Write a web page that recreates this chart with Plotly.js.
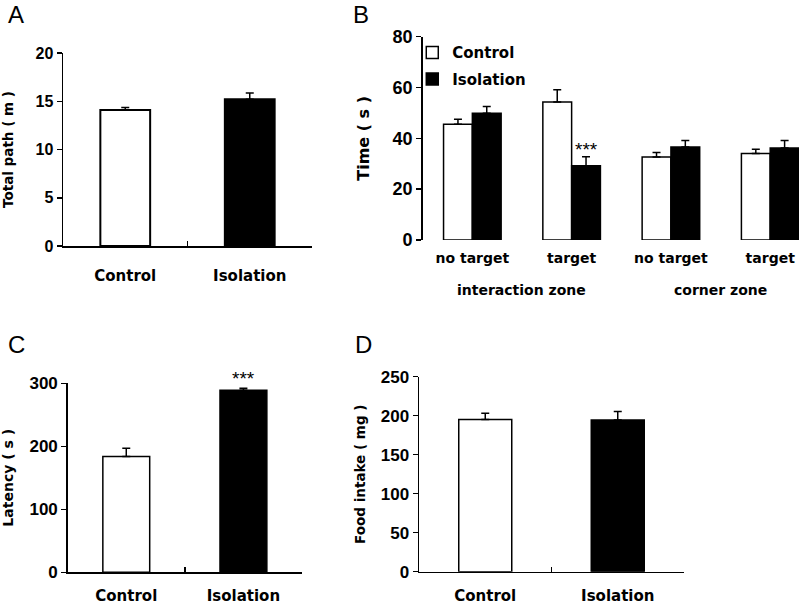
<!DOCTYPE html>
<html>
<head>
<meta charset="utf-8">
<script src="https://cdn.plot.ly/plotly-3.0.1.min.js"></script>
<style>html,body{margin:0;padding:0;background:#fff;}#chart{width:799px;height:605px;}</style>
</head>
<body>
<div id="chart"></div>
<script>
// ---- data ----
const groups = ['Control', 'Isolation'];
const totalPathMeans = [14.1, 15.2];
const totalPathErr = [0.25, 0.65];

const zoneCategories = ['no target', 'target', 'no target', 'target'];
const zoneGroups = ['interaction zone', 'corner zone'];
const timeControl = [45.5, 54.3, 32.7, 34.0];
const timeControlErr = [2.0, 4.8, 1.7, 1.7];
const timeIsolation = [49.9, 29.2, 36.6, 36.2];
const timeIsolationErr = [2.6, 3.6, 2.6, 3.0];

const latencyMeans = [184, 289];
const latencyErr = [13, 3];

const foodMeans = [195, 194.5];
const foodErr = [8, 11];

const barColors = ['#ffffff', '#000000'];
const panelLetters = ['A', 'B', 'C', 'D'];

// ---- styles ----
const TXT = 'DejaVu Sans, Verdana, sans-serif';
const NUM = 'Liberation Sans, Arial, sans-serif';
const zeros = n => new Array(n).fill(0);
function errY(arr, color) {
  return {type: 'data', symmetric: false, array: arr, arrayminus: zeros(arr.length),
          color: color || '#000', thickness: 1.5, width: 4, visible: true};
}
function simpleBar(means, errs, xa, ya, lw) {
  return {type: 'bar', x: groups, y: means, width: 0.4, xaxis: xa, yaxis: ya,
          marker: {color: barColors, line: {color: '#000', width: lw}},
          error_y: errY(errs), showlegend: false, hoverinfo: 'x+y'};
}
const zoneIdx = zoneCategories.map((_, i) => i);

const traces = [
  simpleBar(totalPathMeans, totalPathErr, 'x', 'y', 2),
  {type: 'bar', name: 'Control', x: zoneIdx, y: timeControl, xaxis: 'x2', yaxis: 'y2',
   marker: {color: barColors[0], line: {color: '#000', width: 1.5}},
   error_y: errY(timeControlErr), legendgroup: 'c'},
  {type: 'bar', name: 'Isolation', x: zoneIdx, y: timeIsolation, xaxis: 'x2', yaxis: 'y2',
   marker: {color: barColors[1], line: {color: '#000', width: 1.5}},
   error_y: errY(timeIsolationErr), legendgroup: 'i'},
  simpleBar(latencyMeans, latencyErr, 'x3', 'y3', 1.5),
  simpleBar(foodMeans, foodErr, 'x4', 'y4', 1.5)
];

function catX(domain, standoff) {
  return {domain: domain, type: 'category', range: [-0.5, 1.5], showline: true,
          linecolor: '#000', linewidth: 1.5, ticks: 'inside', tickson: 'boundaries',
          ticklen: 5, tickwidth: 1.5, tickcolor: '#000', showgrid: false, zeroline: false,
          ticklabelstandoff: standoff, fixedrange: true,
          tickfont: {family: TXT, size: 15, color: '#000', weight: 'bold'}};
}
function numY(domain, range, dtick, size, title, tsize, standoff) {
  return {domain: domain, range: range, dtick: dtick, showline: true, linecolor: '#000',
          linewidth: 1.5, ticks: 'outside', ticklen: 5, tickwidth: 1.5, tickcolor: '#000',
          showgrid: false, zeroline: false, fixedrange: true,
          tickfont: {family: NUM, size: size, color: '#000', weight: 'bold'},
          title: {text: title, standoff: standoff,
                  font: {family: TXT, size: tsize, color: '#000', weight: 'bold'}}};
}

const annotations = [];
const letterPos = [[6, 1], [351, 1], [6, 331], [353, 331]];
panelLetters.forEach((L, i) => {
  annotations.push({text: L, xref: 'paper', yref: 'paper', x: letterPos[i][0] / 799,
    y: 1 - letterPos[i][1] / 605, xanchor: 'left', yanchor: 'top', showarrow: false,
    yshift: 2, font: {family: NUM, size: 24, color: '#000'}});
});
zoneGroups.forEach((g, i) => {
  annotations.push({text: g, xref: 'x2', yref: 'paper', x: 2 * i + 0.5, y: 1 - 290 / 605,
    xanchor: 'center', yanchor: 'middle', showarrow: false,
    font: {family: TXT, size: 14, color: '#000', weight: 'bold'}});
});
// significance markers
annotations.push({text: '***', xref: 'x2', yref: 'y2', x: 1 + 0.145,
  y: timeIsolation[1] + timeIsolationErr[1], xanchor: 'center', yanchor: 'bottom',
  yshift: -5, showarrow: false, font: {family: NUM, size: 19, color: '#000'}});
annotations.push({text: '***', xref: 'x3', yref: 'y3', x: groups[1],
  y: latencyMeans[1] + latencyErr[1], xanchor: 'center', yanchor: 'bottom',
  yshift: -3, showarrow: false, font: {family: NUM, size: 19, color: '#000'}});

const layout = {
  width: 799, height: 605, margin: {l: 0, r: 0, t: 0, b: 0},
  paper_bgcolor: '#fff', plot_bgcolor: 'rgba(0,0,0,0)',
  barmode: 'group', bargap: 0.42, bargroupgap: 0,
  showlegend: true,
  legend: {x: 0.516, y: 0.94, xanchor: 'left', yanchor: 'top', bgcolor: 'rgba(0,0,0,0)',
           traceorder: 'grouped', tracegroupgap: 4,
           font: {family: TXT, size: 15, color: '#000', weight: 'bold'}},
  xaxis: catX([63 / 799, 312 / 799], 15),
  yaxis: numY([1 - 246 / 605, 1 - 53 / 605], [0, 20], 5, 16, 'Total path ( m )', 13.5, 19),
  xaxis2: {domain: [422.7 / 799, 1], anchor: 'y2', range: [-0.5, 3.29], showline: false,
           tickmode: 'array', tickvals: zoneIdx, ticktext: zoneCategories, ticks: '',
           showgrid: false, zeroline: false, fixedrange: true, ticklabelstandoff: 8,
           tickfont: {family: TXT, size: 14, color: '#000', weight: 'bold'}},
  yaxis2: Object.assign(numY([1 - 240 / 605, 1 - 36.7 / 605], [0, 80], 20, 18, 'Time ( s )', 16, 19),
                        {anchor: 'x2'}),
  xaxis3: Object.assign(catX([67.7 / 799, 302 / 799], 9), {anchor: 'y3'}),
  yaxis3: Object.assign(numY([1 - 572.3 / 605, 1 - 383.3 / 605], [0, 300], 100, 17, 'Latency ( s )', 14, 13),
                        {anchor: 'x3'}),
  xaxis4: Object.assign(catX([419 / 799, 684 / 799], 10), {anchor: 'y4'}),
  yaxis4: Object.assign(numY([1 - 571.7 / 605, 1 - 376.7 / 605], [0, 250], 50, 17, 'Food intake ( mg )', 13.5, 12),
                        {anchor: 'x4'}),
  annotations: annotations
};
layout.xaxis.anchor = 'y';
layout.yaxis.anchor = 'x';

Plotly.newPlot('chart', traces, layout, {staticPlot: true, displayModeBar: false});
</script>
</body>
</html>
